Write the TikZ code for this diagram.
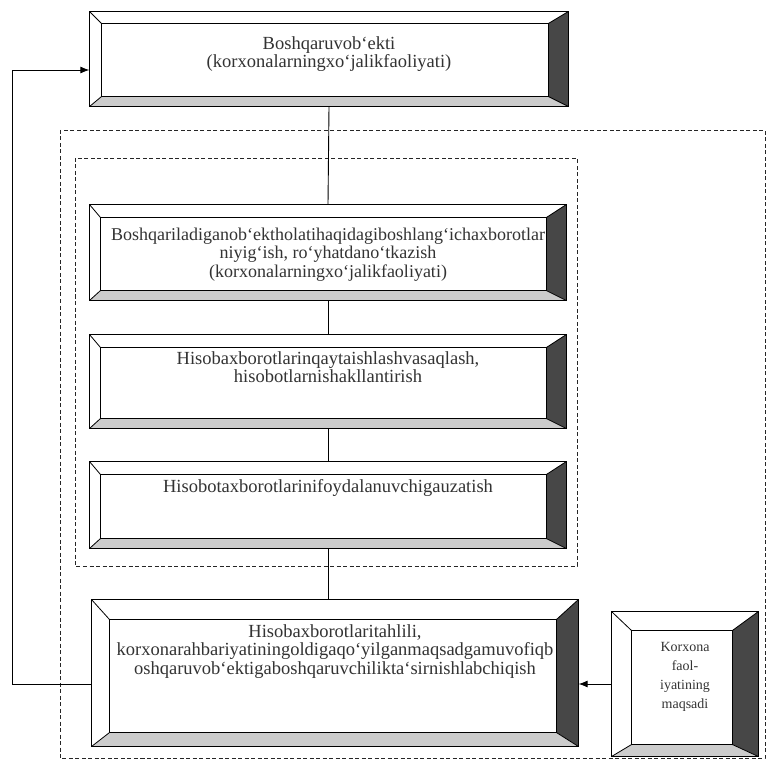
\documentclass[tikz,border=0pt]{standalone}
\usepackage{fontspec}
\setmainfont{Liberation Serif}
\usetikzlibrary{arrows.meta}

% bevel frame round a box node: #1 node, #2..#5 left/top/right/bottom widths
\newcommand{\bevel}[5]{%
	\fill[bevlight] (#1.north west) -- (#1.north east) -- ([shift={(-#4,#3)}]#1.north east) -- ([shift={(#2,#3)}]#1.north west) -- cycle;
	\fill[bevlight] (#1.north west) -- (#1.south west) -- ([shift={(#2,-#5)}]#1.south west) -- ([shift={(#2,#3)}]#1.north west) -- cycle;
	\fill[bevdark] (#1.north east) -- (#1.south east) -- ([shift={(-#4,-#5)}]#1.south east) -- ([shift={(-#4,#3)}]#1.north east) -- cycle;
	\fill[bevgray] (#1.south west) -- (#1.south east) -- ([shift={(-#4,-#5)}]#1.south east) -- ([shift={(#2,-#5)}]#1.south west) -- cycle;
	\draw[frameline] ([shift={(#2,#3)}]#1.north west) rectangle ([shift={(-#4,-#5)}]#1.south east);
	\draw[frameline] (#1.north west) -- ([shift={(#2,#3)}]#1.north west);
	\draw[frameline] (#1.south west) -- ([shift={(#2,-#5)}]#1.south west);
	\draw[frameline] (#1.north east) -- ([shift={(-#4,#3)}]#1.north east);
	\draw[frameline] (#1.south east) -- ([shift={(-#4,-#5)}]#1.south east);
	\draw[frameline,line width=1.3pt] (#1.north west) rectangle (#1.south east);
}

\begin{document}
\begin{tikzpicture}[x=1pt,y=-1pt,
		mybox/.style={draw=black,line width=1.3pt,fill=white,inner sep=0pt,align=center,text=black!80,
			font=\fontsize{18.5}{18.5}\selectfont},
		bevlight/.style={fill=white},
		bevdark/.style={fill=black!72},
		bevgray/.style={fill=black!20},
		frameline/.style={draw=black,line width=.8pt},
		grp/.style={draw=black!85,line width=.9pt,dash pattern=on 4pt off 2.5pt},
		link/.style={draw=black,line width=.9pt}
		]
		\useasboundingbox (0,0) rectangle (772,765);
		%%%%%%%%%%%%%%% dashed groups
		\draw[grp] (60,130) rectangle (765,758);
		\draw[grp] (75,158) rectangle (577,566);
		%%%%%%%%%%%%%%% boxes
		\node[mybox,minimum width=478pt,minimum height=94pt,text depth=14pt] (b1) at (329,59) {Boshqaruvob`ekti\\(korxonalarningxo`jalikfaoliyati)};
		\node[mybox,minimum width=476pt,minimum height=95pt,text depth=0pt,font=\fontsize{18}{18.5}\selectfont] (b2) at (328,252.5) {Boshqariladiganob`ektholatihaqidagiboshlang`ichaxborotlar\\niyig`ish, ro`yhatdano`tkazish\\(korxonalarningxo`jalikfaoliyati)};
		\node[mybox,minimum width=476pt,minimum height=93pt,text depth=29pt] (b3) at (328,381.5) {Hisobaxborotlarinqaytaishlashvasaqlash,\\hisobotlarnishakllantirish};
		\node[mybox,minimum width=476pt,minimum height=86pt,text depth=38pt] (b4) at (328,505) {Hisobotaxborotlarinifoydalanuvchigauzatish};
		\node[mybox,minimum width=486pt,minimum height=146pt,text depth=47pt] (b5) at (335,673) {Hisobaxborotlaritahlili,\\korxonarahbariyatiningoldigaqo`yilganmaqsadgamuvofiqb\\oshqaruvob`ektigaboshqaruvchilikta`sirnishlabchiqish};
		\node[mybox,minimum width=146pt,minimum height=144pt,font=\fontsize{14}{19}\selectfont,text depth=18pt] (b6) at (685,684) {Korxona\\faol-\\iyatining\\maqsadi};
		\bevel{b1}{12}{12}{20}{10}
		\bevel{b2}{11}{13}{20}{10}
		\bevel{b3}{11}{13}{20}{10}
		\bevel{b4}{11}{13}{20}{10}
		\bevel{b5}{18}{20}{22}{14}
		\bevel{b6}{20}{19}{26}{12}
		%%%%%%%%%%%%%%% links
		\coordinate (fb) at (12,70);
		\draw[link] (b1.south) -- (b2.north);
		\draw[link] (b2.south) -- (b3.north);
		\draw[link] (b3.south) -- (b4.north);
		\draw[link] (b4.south) -- (b4.south |- b5.north);
		\draw[link,-{Latex[length=9pt,width=7pt]}] (b6.west) -- (b6.west -| b5.east);
		\draw[link,-{Latex[length=9pt,width=7pt]}] (b6.west -| b5.west) -| (fb) -- (fb -| b1.west);
	\end{tikzpicture}
\end{document}
